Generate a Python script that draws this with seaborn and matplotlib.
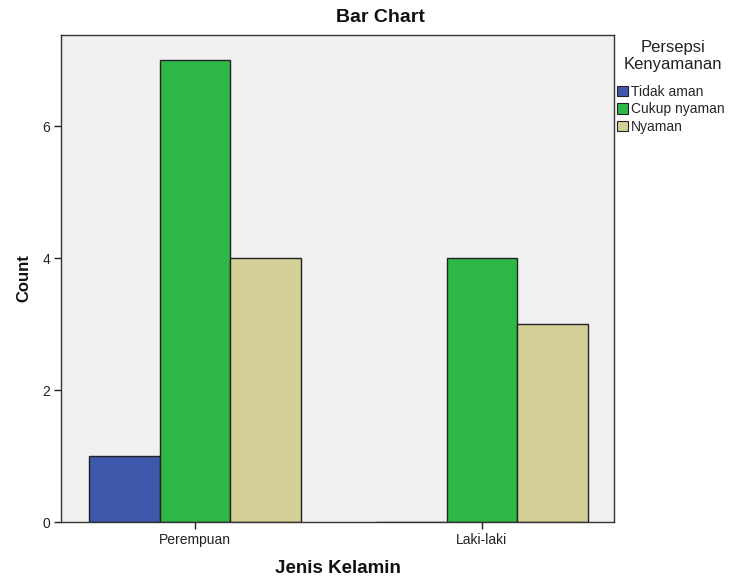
import pandas as pd
import matplotlib.pyplot as plt
import seaborn as sns
from matplotlib.patches import Patch

gender = ["Perempuan", "Perempuan", "Perempuan", "Laki-laki", "Laki-laki", "Laki-laki"]
comfort = ["Tidak aman", "Cukup nyaman", "Nyaman", "Tidak aman", "Cukup nyaman", "Nyaman"]
counts = [1, 7, 4, 0, 4, 3]

hue_order = ["Tidak aman", "Cukup nyaman", "Nyaman"]
colors = ["#3e58ac", "#2eb848", "#d4cf96"]

df = pd.DataFrame({"Jenis Kelamin": gender, "Persepsi": comfort, "Count": counts})

sns.set_style("white")
plt.rcParams['font.family'] = ['Liberation Sans', 'DejaVu Sans']

fig = plt.figure(figsize=(7.29, 5.78), dpi=100)
ax = fig.add_axes([61/729, 56/578, (614-61)/729, (522-35)/578])
ax.set_facecolor("#f0f0f0")

sns.barplot(data=df, x="Jenis Kelamin", y="Count", hue="Persepsi",
            order=["Perempuan", "Laki-laki"], hue_order=hue_order,
            palette=colors, width=0.737, edgecolor="#222222", linewidth=1,
            saturation=1, ax=ax, legend=False)

ax.set_xlim(-0.467, 1.46)
ax.set_ylim(0, 7.38)
ax.set_yticks([0, 2, 4, 6])
ax.tick_params(axis="both", direction="out", length=5, width=1, colors="#222222",
               labelsize=10, pad=3, left=True, bottom=True)
for s in ax.spines.values():
    s.set_color("#333333")
    s.set_linewidth(1)

fig.text(380/729, 1 - 18/578, "Bar Chart", fontsize=14, fontweight="bold",
         ha="center", va="center", color="#111111")
ax.set_xlabel("Jenis Kelamin", fontsize=13.5, fontweight="bold", labelpad=9, color="#111111")
ax.set_ylabel("Count", fontsize=12, fontweight="bold", labelpad=8, color="#111111")

fig.text(673/729, 1 - 56/578, "Persepsi\nKenyamanan", fontsize=12, ha="center",
         va="center", multialignment="center", linespacing=1.2, color="#222222")
handles = [Patch(facecolor=c, edgecolor="#222222", linewidth=0.8) for c in colors]
fig.legend(handles, hue_order, loc="upper left",
           bbox_to_anchor=(617/729, 1 - 85/578),
           frameon=False, fontsize=10,
           handlelength=0.8, handleheight=0.8, handletextpad=0.2,
           labelspacing=0.25, borderaxespad=0, borderpad=0)

fig.savefig("out.png", dpi=100)
